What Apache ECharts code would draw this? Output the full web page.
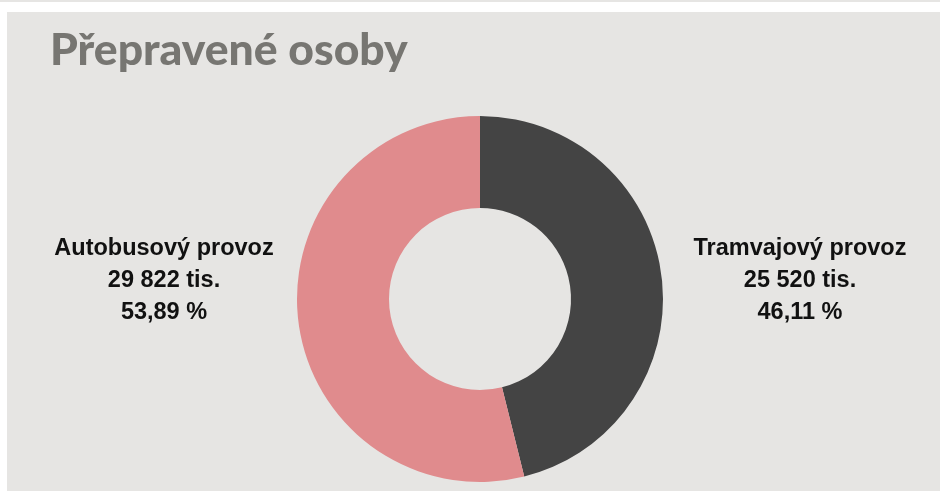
<!DOCTYPE html>
<html>
<head>
<meta charset="utf-8">
<script src="https://cdn.jsdelivr.net/npm/echarts@6/dist/echarts.min.js"></script>
<style>
  html, body { margin: 0; padding: 0; background: #fff; }
  #chart { width: 940px; height: 491px; }
</style>
</head>
<body>
<div id="chart"></div>
<script>
const categories = ['Tramvajový provoz', 'Autobusový provoz']
const values = [25520, 29822]
const colors = ['#444444', '#e08b8d']

// 29822 -> "29 822"
function fmtThousands(n) {
  return String(n).replace(/\B(?=(\d{3})+(?!\d))/g, ' ')
}

const total = values.reduce((a, b) => a + b, 0)

const chart = echarts.init(document.getElementById('chart'))
chart.setOption({
  backgroundColor: '#ffffff',
  animation: false,
  graphic: [
    { type: 'rect', z: -10, shape: { x: 0, y: 0, width: 940, height: 2 }, style: { fill: '#e6e5e3' } },
    { type: 'rect', z: -10, shape: { x: 7, y: 12, width: 933, height: 479 }, style: { fill: '#e6e5e3' } }
  ],
  title: {
    text: 'Přepravené osoby',
    left: 45,
    top: 23,
    textStyle: {
      fontFamily: 'Lato',
      fontWeight: 900,
      fontSize: 44.5,
      color: '#777672'
    }
  },
  series: [{
    type: 'pie',
    center: [480, 299],
    radius: [91, 183],
    startAngle: 90,
    clockwise: true,
    silent: true,
    data: categories.map((name, i) => ({
      name: name,
      value: values[i],
      itemStyle: { color: colors[i] }
    })),
    label: {
      show: true,
      fontFamily: 'Liberation Sans',
      fontWeight: 'bold',
      fontSize: 23.5,
      lineHeight: 32,
      color: '#111111',
      align: 'center',
      formatter: function (p) {
        const pct = (p.value / total * 100).toFixed(2).replace('.', ',')
        return p.name + '\n' + fmtThousands(p.value) + ' tis.\n' + pct + ' %'
      }
    },
    labelLine: { show: false },
    labelLayout: function (p) {
      return {
        x: p.dataIndex === 0 ? 800 : 164,
        y: 281,
        align: 'center',
        verticalAlign: 'middle'
      }
    }
  }]
})
</script>
</body>
</html>
